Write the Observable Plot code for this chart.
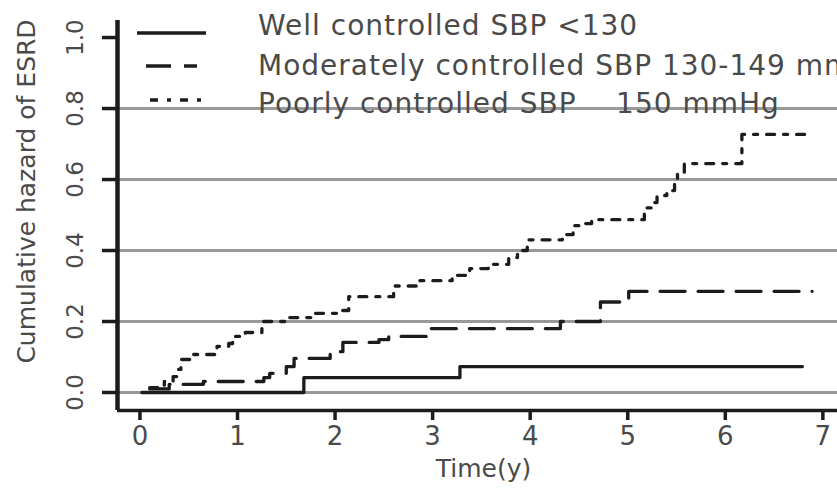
<!DOCTYPE html>
<html>
<head>
<meta charset="utf-8">
<script src="https://cdn.jsdelivr.net/npm/d3@7"></script>
<script src="https://cdn.jsdelivr.net/npm/@observablehq/plot@0.6"></script>
<style>
  html, body { margin: 0; padding: 0; background: #fff; }
  #wrap { position: relative; width: 837px; height: 490px; overflow: hidden; }
  #legend { position: absolute; left: 0; top: 0; pointer-events: none; }
  svg text { font-family: "DejaVu Sans", sans-serif; }
</style>
</head>
<body>
<div id="wrap"></div>
<script>
// ---- data ----
const xTicks = [0, 1, 2, 3, 4, 5, 6, 7];
const yTicks = [0, 0.2, 0.4, 0.6, 0.8, 1.0];
const gridValues = [0, 0.2, 0.4, 0.6, 0.8];
const xDomain = [-0.23, 7.15];
const yDomain = [-0.0507, 1.048];

const seriesNames = [
  "Well controlled SBP <130",
  "Moderately controlled SBP 130-149 mmHg",
  "Poorly controlled SBP \u00a0\u00a0\u00a0150 mmHg"
];

const wellTime = [0.02, 1.68, 3.28, 6.79];
const wellHazard = [0, 0.042, 0.073, 0.073];

const moderateTime = [0.1, 0.3, 0.65, 1.27, 1.33, 1.5, 1.58, 1.95, 2.08, 2.45, 2.55, 2.96, 4.31, 4.72, 5.01, 6.89];
const moderateHazard = [0.01, 0.023, 0.031, 0.042, 0.054, 0.073, 0.096, 0.115, 0.141, 0.149, 0.158, 0.18, 0.2, 0.255, 0.285, 0.285];

const poorTime = [0.1, 0.25, 0.34, 0.39, 0.42, 0.55, 0.79, 0.91, 0.95, 1.08, 1.25, 1.49, 1.77, 2.05, 2.14, 2.6, 2.87, 3.2, 3.38, 3.57, 3.78, 3.87, 3.97, 4.33, 4.44, 4.55, 4.63, 5.17, 5.25, 5.3, 5.4, 5.48, 5.51, 5.58, 6.17, 6.87];
const poorHazard = [0.014, 0.031, 0.045, 0.065, 0.093, 0.107, 0.13, 0.138, 0.158, 0.169, 0.2, 0.211, 0.223, 0.231, 0.27, 0.3, 0.315, 0.33, 0.349, 0.361, 0.38, 0.40, 0.43, 0.445, 0.47, 0.476, 0.487, 0.52, 0.535, 0.555, 0.569, 0.59, 0.617, 0.645, 0.727, 0.727];

const toRows = (ts, hs) => ts.map((t, i) => ({t, h: hs[i]}));
const well = toRows(wellTime, wellHazard);
const moderate = toRows(moderateTime, moderateHazard);
const poor = toRows(poorTime, poorHazard);

const dashes = ["none", "25,13", "8,9,4,9"];
const ink = "#1c1c1c";
const textInk = "#4a4a4a";

const chart = Plot.plot({
  width: 837,
  height: 490,
  marginLeft: 117,
  marginRight: 0,
  marginTop: 20,
  marginBottom: 80,
  x: {domain: xDomain},
  y: {domain: yDomain},
  style: {fontFamily: "DejaVu Sans, sans-serif", background: "#fff"},
  marks: [
    Plot.ruleY(gridValues, {stroke: "#999", strokeWidth: 3}),
    Plot.ruleY([yDomain[0]], {stroke: ink, strokeWidth: 3.5}),
    Plot.ruleX([xDomain[0]], {stroke: ink, strokeWidth: 4.5}),
    Plot.axisX(xTicks, {tickSize: 10, tickPadding: 6, strokeWidth: 3.5, stroke: ink, fontSize: 26, fill: textInk, label: null}),
    Plot.axisY(yTicks, {tickSize: 15, strokeWidth: 3.5, stroke: ink, tickFormat: () => "", label: null}),
    Plot.text(yTicks, {y: d => d, text: d => d.toFixed(1), frameAnchor: "left", textAnchor: "middle", dx: -42, rotate: -90, fontSize: 23, fill: textInk}),
    Plot.text(["Cumulative hazard of ESRD"], {frameAnchor: "left", textAnchor: "middle", dx: -91, dy: -24, rotate: -90, fontSize: 25, fill: textInk}),
    Plot.text(["Time(y)"], {frameAnchor: "bottom", dx: 6, dy: 66, fontSize: 25, fill: textInk}),
    Plot.line(well, {x: "t", y: "h", curve: "step-after", stroke: ink, strokeWidth: 3.3}),
    Plot.line(moderate, {x: "t", y: "h", curve: "step-after", stroke: ink, strokeWidth: 3.3, strokeDasharray: dashes[1]}),
    Plot.line(poor, {x: "t", y: "h", curve: "step-after", stroke: ink, strokeWidth: 3.3, strokeDasharray: dashes[2]})
  ]
});

const wrap = document.getElementById("wrap");
wrap.appendChild(chart);

// ---- legend overlay ----
const ns = "http://www.w3.org/2000/svg";
const leg = document.createElementNS(ns, "svg");
leg.setAttribute("id", "legend");
leg.setAttribute("width", 837);
leg.setAttribute("height", 490);
const rows = [
  {x1: 137, x2: 206, ly: 33, ty: 35},
  {x1: 146, x2: 197, ly: 66, ty: 75},
  {x1: 150, x2: 202, ly: 100, ty: 113}
];
rows.forEach((r, i) => {
  const ln = document.createElementNS(ns, "line");
  ln.setAttribute("x1", r.x1); ln.setAttribute("x2", r.x2);
  ln.setAttribute("y1", r.ly); ln.setAttribute("y2", r.ly);
  ln.setAttribute("stroke", ink); ln.setAttribute("stroke-width", 3.3);
  if (dashes[i] !== "none") ln.setAttribute("stroke-dasharray", dashes[i]);
  leg.appendChild(ln);
  const tx = document.createElementNS(ns, "text");
  tx.setAttribute("x", 258); tx.setAttribute("y", r.ty);
  tx.setAttribute("fill", textInk);
  tx.setAttribute("font-size", 28);
  tx.setAttribute("letter-spacing", 1);
  tx.style.whiteSpace = "pre";
  tx.textContent = seriesNames[i];
  leg.appendChild(tx);
});
wrap.appendChild(leg);
</script>
</body>
</html>
